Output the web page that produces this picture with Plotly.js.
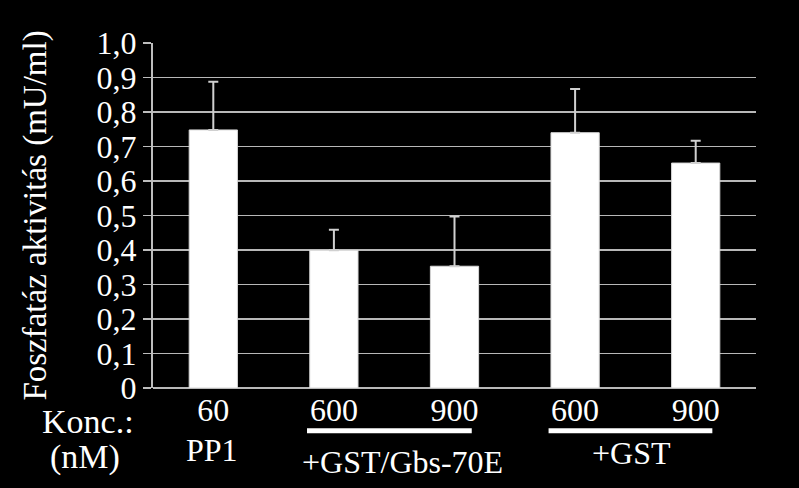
<!DOCTYPE html>
<html>
<head>
<meta charset="utf-8">
<script src="https://cdn.plot.ly/plotly-3.0.1.min.js"></script>
<style>html,body{margin:0;padding:0;background:#000;}</style>
</head>
<body>
<div id="chart" style="width:799px;height:488px;"></div>
<script>
// Data
var categories = ["PP1 60", "GST/Gbs-70E 600", "GST/Gbs-70E 900", "GST 600", "GST 900"];
var concLabels = ["60", "600", "900", "600", "900"];
var activity = [0.748, 0.399, 0.353, 0.740, 0.652];
var errorUp = [0.140, 0.060, 0.144, 0.127, 0.065];
var yTickVals = [0, 0.1, 0.2, 0.3, 0.4, 0.5, 0.6, 0.7, 0.8, 0.9, 1.0];
var yTickText = ["0", "0,1", "0,2", "0,3", "0,4", "0,5", "0,6", "0,7", "0,8", "0,9", "1,0"];

var FONT = "Liberation Serif, Times New Roman, serif";

var trace = {
  type: "bar",
  x: categories,
  y: activity,
  marker: {color: "#ffffff", line: {color: "#d8d8d8", width: 1}},
  width: 0.4,
  error_y: {
    type: "data",
    symmetric: false,
    array: errorUp,
    arrayminus: activity.map(function(){ return 0; }),
    color: "#d0d0d0",
    thickness: 2,
    width: 5
  },
  hoverinfo: "x+y"
};

var layout = {
  width: 799,
  height: 488,
  margin: {l: 153, r: 43, t: 43, b: 100},
  paper_bgcolor: "#000000",
  plot_bgcolor: "#000000",
  showlegend: false,
  font: {family: FONT, color: "#ffffff", size: 32},
  xaxis: {
    type: "category",
    tickmode: "array",
    tickvals: categories,
    ticktext: concLabels,
    ticks: "",
    showgrid: false,
    showline: false,
    zeroline: false,
    tickfont: {family: FONT, size: 32, color: "#ffffff"},
    range: [-0.5, 4.5]
  },
  yaxis: {
    range: [0, 1.0],
    tickmode: "array",
    tickvals: yTickVals,
    ticktext: yTickText,
    ticks: "outside",
    ticklen: 8,
    tickwidth: 1.5,
    tickcolor: "#bdbdbd",
    showline: true,
    linecolor: "#bdbdbd",
    linewidth: 2,
    showgrid: true,
    gridcolor: "#b8b8b8",
    gridwidth: 1.5,
    zeroline: true,
    zerolinecolor: "#b8b8b8",
    zerolinewidth: 1.5,
    tickfont: {family: FONT, size: 32, color: "#ffffff"},
    title: {text: "Foszfatáz aktivitás (mU/ml)", font: {family: FONT, size: 33, color: "#ffffff"}, standoff: 40}
  },
  shapes: [
    {type: "line", xref: "x", yref: "paper", x0: 0.777, x1: 2.143, y0: -0.124, y1: -0.124, line: {color: "#ffffff", width: 5}},
    {type: "line", xref: "x", yref: "paper", x0: 2.78, x1: 4.138, y0: -0.124, y1: -0.124, line: {color: "#ffffff", width: 5}}
  ],
  annotations: [
    {text: "Konc.:", xref: "paper", yref: "paper", x: -0.108, y: -0.097, xanchor: "center", yanchor: "middle", showarrow: false, font: {family: FONT, size: 34, color: "#ffffff"}},
    {text: "(nM)", xref: "paper", yref: "paper", x: -0.113, y: -0.199, xanchor: "center", yanchor: "middle", showarrow: false, font: {family: FONT, size: 34, color: "#ffffff"}},
    {text: "PP1", xref: "x", yref: "paper", x: -0.01, y: -0.179, xanchor: "center", yanchor: "middle", showarrow: false, font: {family: FONT, size: 32, color: "#ffffff"}},
    {text: "+GST/Gbs-70E", xref: "x", yref: "paper", x: 1.57, y: -0.214, xanchor: "center", yanchor: "middle", showarrow: false, font: {family: FONT, size: 32, color: "#ffffff"}},
    {text: "+GST", xref: "x", yref: "paper", x: 3.47, y: -0.188, xanchor: "center", yanchor: "middle", showarrow: false, font: {family: FONT, size: 32, color: "#ffffff"}}
  ]
};

Plotly.newPlot("chart", [trace], layout, {displayModeBar: false, staticPlot: true});
</script>
</body>
</html>
